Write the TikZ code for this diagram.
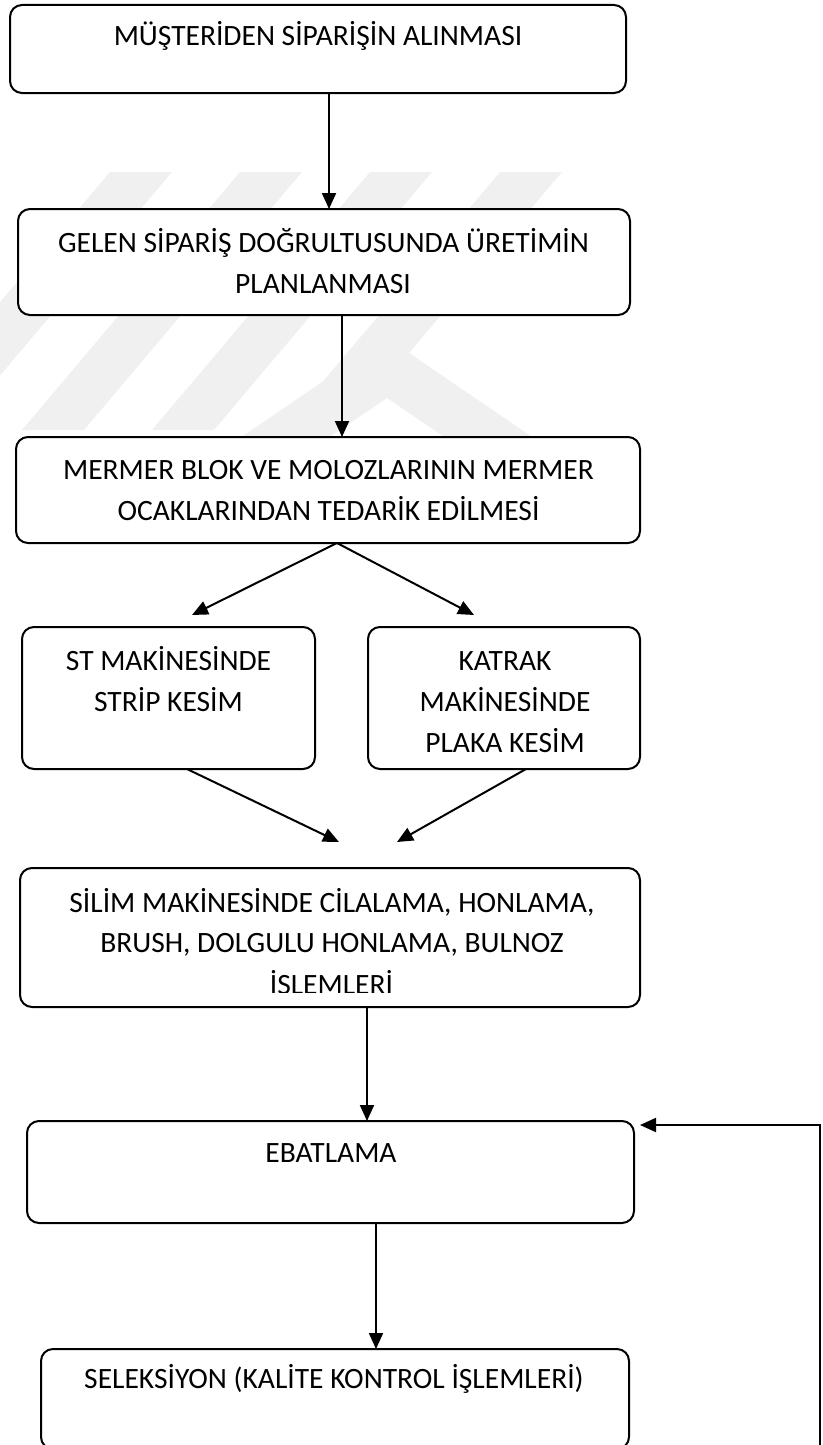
\documentclass[tikz,border=0pt]{standalone}
\usepackage{fontspec}
\setmainfont{Carlito}
\usetikzlibrary{arrows.meta}
\begin{document}
\begin{tikzpicture}[x=1pt,y=-1pt,
  box/.style={draw, rounded corners=12pt, line width=2pt, fill=white,
              inner sep=0pt, outer sep=0pt},
  lbl/.style={anchor=base, inner sep=0pt, font=\fontsize{29.5}{35}\selectfont},
  arr/.style={line width=2pt, line join=miter, -{Triangle[length=16pt,width=14pt]}},
  wm/.style={fill=black!6, draw=none}]
\useasboundingbox (0,0) rectangle (822,1445);

% faint background emblem
\fill[wm] (110,172) -- (172,172) -- (-46,430) -- (-108,430) -- cycle;
\fill[wm] (240,172) -- (302,172) -- (84,430) -- (22,430) -- cycle;
\fill[wm] (370,172) -- (432,172) -- (214,430) -- (152,430) -- cycle;
\fill[wm] (500,172) -- (562,172) -- (344,430) -- (282,430) -- cycle;
\begin{scope}
  \clip (0,300) rectangle (640,540);
  \fill[wm] (0,601) -- (387,338) -- (660,524) -- (660,584) -- (387,398) -- (0,661) -- cycle;
\end{scope}

% process boxes
\node[box, minimum width=616pt, minimum height=88pt]  (b1) at (318,49)     {};
\node[box, minimum width=612pt, minimum height=106pt] (b2) at (324,262)    {};
\node[box, minimum width=624pt, minimum height=106pt] (b3) at (328,490)    {};
\node[box, minimum width=293pt, minimum height=142pt] (b4) at (168.5,698)  {};
\node[box, minimum width=272pt, minimum height=142pt] (b5) at (504,698)    {};
\node[box, minimum width=620pt, minimum height=139pt] (b6) at (330,937.5)  {};
\node[box, minimum width=607pt, minimum height=102pt] (b7) at (330.5,1172) {};
\node[box, minimum width=588pt, minimum height=100pt] (b8) at (335,1399)   {};

% box texts
\node[lbl] (t1)  at (318,46)    {MÜŞTERİDEN SİPARİŞİN ALINMASI};
\node[lbl] (t2a) at (323.5,252) {GELEN SİPARİŞ DOĞRULTUSUNDA ÜRETİMİN};
\node[lbl] (t2b) at (323,293)   {PLANLANMASI};
\node[lbl] (t3a) at (328.5,479.5) {MERMER BLOK VE MOLOZLARININ MERMER};
\node[lbl] (t3b) at (328.5,520.5) {OCAKLARINDAN TEDARİK EDİLMESİ};
\node[lbl] (t4a) at (168.5,670.5) {ST MAKİNESİNDE};
\node[lbl] (t4b) at (168.5,711.5) {STRİP KESİM};
\node[lbl] (t5a) at (505,670.5) {KATRAK};
\node[lbl] (t5b) at (505,711.5) {MAKİNESİNDE};
\node[lbl] (t5c) at (505,752.5) {PLAKA KESİM};
\node[lbl] (t6a) at (332,912)   {SİLİM MAKİNESİNDE CİLALAMA, HONLAMA,};
\node[lbl] (t6b) at (332,952.5) {BRUSH, DOLGULU HONLAMA, BULNOZ};
\begin{scope}
  \clip (0,960) rectangle (822,992.5);
  \node[lbl] (t6c) at (331.5,994) {İŞLEMLERİ};
\end{scope}
\node[lbl] (t7)  at (331,1162)  {EBATLAMA};
\node[lbl] (t8)  at (334,1388)  {SELEKSİYON (KALİTE KONTROL İŞLEMLERİ)};

% connector columns and free ends
\coordinate (x1) at (329,0);
\coordinate (x2) at (342,0);
\coordinate (x3) at (337,0);
\coordinate (x4) at (187,0);
\coordinate (x5) at (526,0);
\coordinate (x6) at (367,0);
\coordinate (x7) at (376,0);
\coordinate (s1) at (192,615);
\coordinate (s2) at (474,615);
\coordinate (m1) at (339,842);
\coordinate (m2) at (397,842);
\coordinate (f0) at (820,1452);
\coordinate (f1) at (820,1125);
\coordinate (f2) at (640,1125);

% connectors
\draw[arr] (b1.south -| x1) -- (b2.north -| x1);
\draw[arr] (b2.south -| x2) -- (b3.north -| x2);
\draw[arr] (b3.south -| x3) -- (s1);
\draw[arr] (b3.south -| x3) -- (s2);
\draw[arr] (b4.south -| x4) -- (m1);
\draw[arr] (b5.south -| x5) -- (m2);
\draw[arr] (b6.south -| x6) -- (b7.north -| x6);
\draw[arr] (b7.south -| x7) -- (b8.north -| x7);
\draw[arr] (f0) -- (f1) -- (f2);
\end{tikzpicture}
\end{document}
